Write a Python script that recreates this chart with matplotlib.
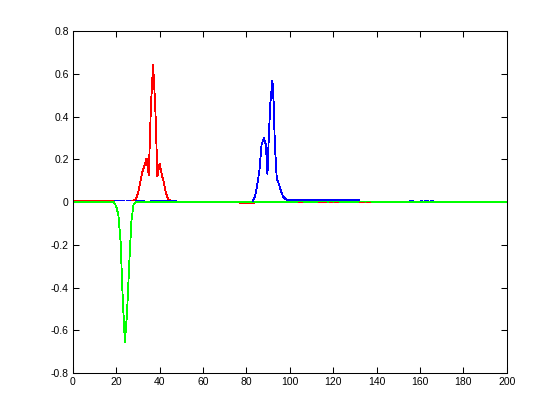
import matplotlib
matplotlib.use("Agg")
import matplotlib.pyplot as plt

# green trace: flat with a negative dip near x=24
green_x = [0, 19, 20, 21, 22, 23, 24, 25, 26, 27, 28, 29, 200]
green_y = [0, 0, -0.02, -0.06, -0.18, -0.45, -0.655, -0.52, -0.29, -0.09, -0.01, 0, 0]

# red trace: peak near x=37, plus small pieces on the baseline
red_x = [0, 19]
red_y = [0.008, 0.008]
red_peak_x = [26, 27, 28, 29, 30, 31, 32, 33, 34, 35, 36, 37, 38, 39, 40, 41, 42, 43, 44, 45]
red_peak_y = [0.008, 0.008, 0.008, 0.012, 0.04, 0.09, 0.14, 0.17, 0.205, 0.125, 0.45, 0.645,
              0.45, 0.12, 0.18, 0.13, 0.09, 0.04, 0.012, 0.008]
red_mid_x = [76.5, 83.5]
red_mid_y = [-0.004, -0.004]
red_bits = [(104, 105.5), (113, 114.5), (115, 116.5), (118, 119.5), (120.5, 122),
            (132, 134), (135, 137)]

# blue trace: peak near x=92, plus baseline pieces
blue_bits_low = [(19, 23.5), (24.4, 26.3), (28.6, 33), (35.5, 47.5)]
blue_peak_x = [83, 84, 85, 86, 87, 88, 89, 89.7, 90.3, 91, 92, 92.6, 93.1, 94, 95, 96, 97, 98, 99, 100, 132]
blue_peak_y = [0.006, 0.03, 0.08, 0.15, 0.27, 0.30, 0.27, 0.13, 0.30, 0.46, 0.57, 0.46, 0.27,
               0.11, 0.085, 0.05, 0.025, 0.015, 0.011, 0.011, 0.011]
blue_bits_high = [(155, 156.6), (160, 161), (162, 163.6), (164.5, 166)]

fig = plt.figure(figsize=(5.6, 4.19), dpi=100)
ax = fig.add_axes([0.13, 0.11, 0.775, 0.815])

lw = 0.6
ax.plot(green_x, green_y, color=(0, 1, 0), linewidth=lw, antialiased=False)
ax.plot(red_x, red_y, color=(1, 0, 0), linewidth=lw, antialiased=False)
ax.plot(red_peak_x, red_peak_y, color=(1, 0, 0), linewidth=lw, antialiased=False)
ax.plot(red_mid_x, red_mid_y, color=(1, 0, 0), linewidth=lw, antialiased=False)
for a, b in blue_bits_low:
    ax.plot([a, b], [0.008, 0.008], color=(0, 0, 1), linewidth=lw, antialiased=False)
ax.plot(blue_peak_x, blue_peak_y, color=(0, 0, 1), linewidth=lw, antialiased=False)
for a, b in blue_bits_high:
    ax.plot([a, b], [0.009, 0.009], color=(0, 0, 1), linewidth=lw, antialiased=False)
for a, b in red_bits:
    ax.plot([a, b], [0.0, 0.0], color=(1, 0, 0), linewidth=lw, antialiased=False)

ax.set_xlim(0, 200)
ax.set_ylim(-0.8, 0.8)
ax.set_xticks(range(0, 201, 20))
ax.set_yticks([-0.8, -0.6, -0.4, -0.2, 0, 0.2, 0.4, 0.6, 0.8])
ax.set_yticklabels(['-0.8', '-0.6', '-0.4', '-0.2', '0', '0.2', '0.4', '0.6', '0.8'])
ax.tick_params(direction='in', top=True, right=True, length=4, width=0.75,
               labelsize=7.5, pad=3)
for lab in ax.get_xticklabels() + ax.get_yticklabels():
    lab.set_fontfamily('Liberation Sans')
for s in ax.spines.values():
    s.set_linewidth(0.75)

fig.savefig("out.png", dpi=100)
